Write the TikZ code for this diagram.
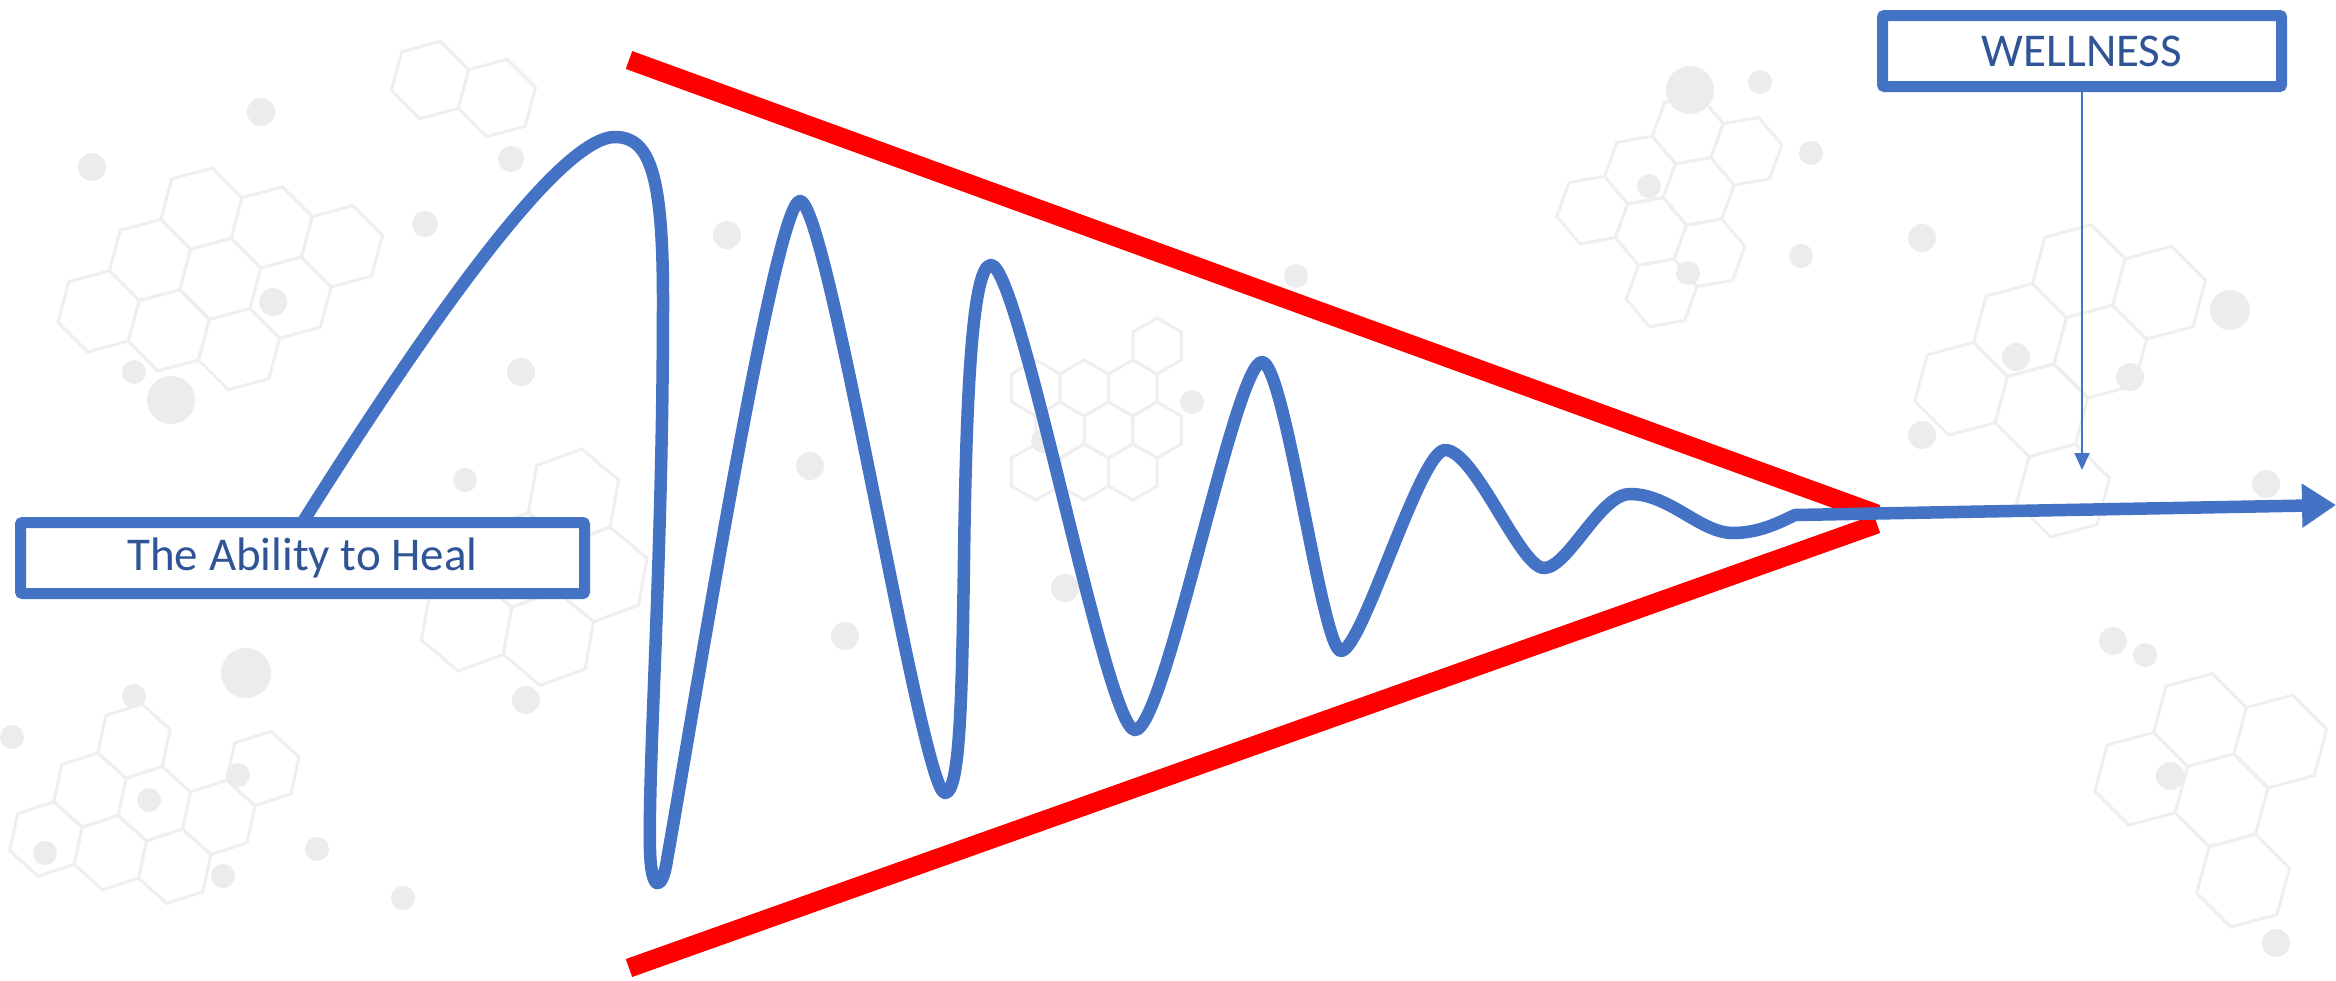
\documentclass[tikz,border=0pt]{standalone}
\usepackage{fontspec}
\setmainfont{Carlito}
\usetikzlibrary{arrows.meta}
\definecolor{obblue}{HTML}{4472C4}
\definecolor{txtblue}{HTML}{2F5597}
\definecolor{molline}{HTML}{EFEFEF}
\definecolor{moldotc}{HTML}{ECECEC}
\newcommand{\hexcluster}[5]{%
  \begin{scope}[shift={(#1,#2)},rotate=#3]
  \foreach \hq/\hr in {#5}{
    \draw[molec,shift={({(\hq+0.5*\hr)*1.7320508*#4},{\hr*1.5*#4})}]
      (30:#4) -- (90:#4) -- (150:#4) -- (210:#4) -- (270:#4) -- (330:#4) -- cycle;
  }
  \end{scope}}
\begin{document}
\begin{tikzpicture}[x=1pt,y=-1pt,
  labelbox/.style={draw=obblue, line width=11pt, fill=white, rounded corners=2pt,
     outer sep=0pt, inner sep=0pt, text=txtblue, font=\fontsize{47}{56}\selectfont},
  wave/.style={draw=obblue, line width=12.5pt, line join=round},
  redline/.style={draw=red, line width=19pt},
  molec/.style={draw=molline, line width=3pt},
  moldot/.style={fill=moldotc}]
\fill[white] (0,0) rectangle (2336,980);
\useasboundingbox (0,0) rectangle (2336,980);

% faint molecular background
\hexcluster{150}{260}{-15}{42}{0/0,1/0,2/0,0/1,1/1,-1/1,1/-1,2/-1,3/-1}
\hexcluster{90}{790}{-12}{38}{0/0,1/0,2/0,0/1,1/1,-1/1,1/-1,3/-1}
\hexcluster{520}{560}{-10}{48}{0/0,1/0,0/1,-1/1,1/-1}
\hexcluster{1060}{430}{0}{28}{0/0,1/0,2/0,0/1,1/1,-1/1,0/-1,1/-1,2/-1,3/-2}
\hexcluster{1640}{170}{-20}{36}{0/0,1/0,0/1,1/1,-1/1,2/-1,1/-1,0/2}
\hexcluster{2020}{330}{-15}{48}{0/0,1/0,0/1,-1/1,1/-1,2/-1,0/2}
\hexcluster{2200}{720}{-15}{48}{0/0,0/1,-1/1,1/0,0/2}
\hexcluster{430}{80}{-15}{40}{0/0,1/0}
\foreach \dx/\dy/\dr in {261/112/14, 92/167/14, 134/372/12, 171/400/24, 273/302/14,
   425/224/13, 521/372/14, 511/159/13, 465/480/12, 246/673/25, 526/700/14,
   134/696/12, 12/737/12, 149/800/12, 238/775/12, 317/849/12, 403/898/12,
   223/876/12, 45/853/12, 727/235/14, 810/466/14, 845/636/14, 1192/402/12,
   1043/441/12, 1065/588/14, 1296/276/12, 1649/186/12, 1688/273/12,
   1811/153/12, 1801/256/12, 1922/238/14, 2016/357/14, 1922/435/14,
   2130/377/14, 2266/484/14, 2113/641/14, 2145/655/12, 2170/776/14,
   2276/943/14, 1760/82/12, 1690/90/24, 2230/310/20}{
  \fill[moldot] (\dx,\dy) circle (\dr);
}

% red converging lines
\coordinate (rtop) at (629,60);
\coordinate (rbot) at (629,968);
\coordinate (rapexT) at (1877,514);
\coordinate (rapexB) at (1877,524);
\draw[redline] (rtop) -- (rapexT);
\draw[redline] (rbot) -- (rapexB);

% boxes
\node[labelbox, minimum width=564pt, minimum height=71pt] (heal) at (302.5,558) {The Ability to Heal};
\node[labelbox, minimum width=399pt, minimum height=71pt] (well) at (2082,51) {WELLNESS};

% damped wave and main arrow
\coordinate (junc) at (1795,515);
\coordinate (tip) at (2336,505);
\draw[wave, -{Triangle[length=34pt,width=42pt]}] (heal.north)
  .. controls (430,320) and (560,137) .. (615,137)
  .. controls (650,137) and (663,175) .. (663,300)
  .. controls (663,560) and (648,760) .. (650,850)
  .. controls (651,892) and (662,893) .. (667,860)
  .. controls (692,720) and (775,201) .. (800,201)
  .. controls (828,201) and (922,793) .. (945,793)
  .. controls (960,793) and (962,700) .. (964,560)
  .. controls (966,400) and (972,265) .. (991,265)
  .. controls (1020,265) and (1106,730) .. (1135,730)
  .. controls (1165,730) and (1235,362) .. (1262,362)
  .. controls (1285,362) and (1322,651) .. (1341,651)
  .. controls (1362,651) and (1420,450) .. (1445,450)
  .. controls (1475,450) and (1520,568) .. (1544,568)
  .. controls (1568,568) and (1600,494) .. (1630,494)
  .. controls (1670,494) and (1700,533) .. (1733,533)
  .. controls (1760,533) and (1780,522) .. (junc)
  -- (tip);

% thin arrow from WELLNESS
\coordinate (wtip) at (2082,470);
\draw[obblue, line width=2pt, -{Triangle[length=17pt,width=15pt]}] (well.south) -- (wtip);
\end{tikzpicture}
\end{document}
